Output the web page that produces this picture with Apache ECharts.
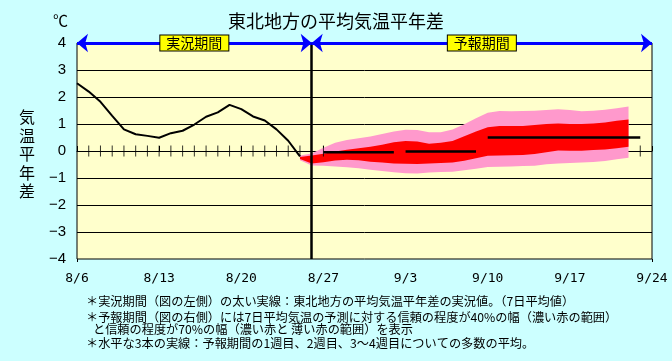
<!DOCTYPE html>
<html><head><meta charset="utf-8">
<script src="https://cdn.jsdelivr.net/npm/echarts@6/dist/echarts.min.js"></script>
<style>html,body{margin:0;padding:0;background:#ccffff;}#c{width:672px;height:361px;}</style>
</head><body><div id="c"></div>
<script>
// x positions are day numbers counted from 8/6 (day 0) to 9/24 (day 49)
const tickLabels = ['8/6','8/13','8/20','8/27','9/3','9/10','9/17','9/24'];
const observedStartDay = 0;
const observed = [2.51,2.20,1.82,1.30,0.80,0.62,0.56,0.49,0.66,0.75,0.98,1.27,1.43,1.71,1.55,1.28,1.13,0.80,0.38,-0.20];
const bandStartDay = 19;
const pinkTop    = [-0.17,-0.09,0.12,0.31,0.41,0.47,0.54,0.63,0.72,0.79,0.78,0.69,0.69,0.80,0.99,1.21,1.42,1.48,1.47,1.48,1.49,1.52,1.55,1.52,1.47,1.49,1.53,1.58,1.65];
const redTop     = [-0.22,-0.17,-0.10,-0.02,0.05,0.10,0.16,0.23,0.32,0.37,0.35,0.27,0.31,0.37,0.55,0.72,0.88,0.93,0.93,0.93,0.96,1.00,1.02,1.00,1.00,1.02,1.06,1.12,1.17];
const redBottom  = [-0.30,-0.46,-0.42,-0.35,-0.32,-0.34,-0.40,-0.43,-0.46,-0.47,-0.48,-0.46,-0.44,-0.43,-0.36,-0.27,-0.18,-0.17,-0.16,-0.15,-0.11,-0.05,0.02,0.01,0.01,0.04,0.06,0.10,0.16];
const pinkBottom = [-0.34,-0.54,-0.55,-0.57,-0.60,-0.64,-0.69,-0.74,-0.79,-0.82,-0.83,-0.80,-0.78,-0.77,-0.71,-0.66,-0.59,-0.58,-0.57,-0.56,-0.55,-0.49,-0.46,-0.44,-0.43,-0.41,-0.37,-0.31,-0.25];
const meanFrom  = [21, 28, 35];
const meanTo    = [27, 34, 48];
const meanValue = [-0.05, -0.02, 0.50];
const zeroTickDays = [1,2,3,4,5,6,7,8,9,10,11,12,13,14,15,16,17,18,19,21,48];
const splitDay = 20;   // 8/26: boundary between observed and forecast periods
const periodNames = ['実況期間', '予報期間'];
const footnotes = [
  '＊実況期間（図の左側）の太い実線：東北地方の平均気温平年差の実況値。（7日平均値）',
  '＊予報期間（図の右側）には7日平均気温の予測に対する信頼の程度が40%の幅（濃い赤の範囲）',
  'と信頼の程度が70%の幅（濃い赤と 薄い赤の範囲）を表示',
  '＊水平な3本の実線：予報期間の1週目、2週目、3～4週目についての多数の平均。'
];

const FONT = '"Noto Sans CJK JP", sans-serif';
const bandDays = pinkTop.map((_, i) => bandStartDay + i);

// band polygon: upper edge forward, lower edge backward, all through the axis scales
const bandSeries = (upper, lower, color, z) => ({
  type: 'custom', z, clip: true, silent: true, animation: false,
  data: [[bandStartDay, 0]],
  encode: { x: 0, y: 1 },
  renderItem: (params, api) => {
    const pts = [];
    for (let i = 0; i < bandDays.length; i++) pts.push(api.coord([bandDays[i], upper[i]]));
    for (let i = bandDays.length - 1; i >= 0; i--) pts.push(api.coord([bandDays[i], lower[i]]));
    return { type: 'polygon', shape: { points: pts }, style: { fill: color, stroke: null } };
  }
});

const meanSeries = meanValue.map((v, i) => ({
  type: 'line', data: [[meanFrom[i], v], [meanTo[i], v]], symbol: 'none', z: 5,
  lineStyle: { color: '#000', width: 2.5 }, animation: false
}));

const footStyle = { fontFamily: FONT, fontSize: 12.2, lineHeight: 14, fontWeight: 'normal', color: '#000' };

const chart = echarts.init(document.getElementById('c'), null, { renderer: 'canvas' });
chart.setOption({
  backgroundColor: '#ccffff',
  animation: false,
  title: [
    { text: '東北地方の平均気温平年差', left: 'center', top: 12, padding: 0,
      textStyle: { fontFamily: FONT, fontSize: 18, fontWeight: 'normal', color: '#000' } },
    { text: '℃', left: 53, top: 13, padding: 0,
      textStyle: { fontFamily: FONT, fontSize: 15, fontWeight: 'normal', color: '#000' } },
    { text: '気\n温\n平\n年\n差', left: 19, top: 108, padding: 0,
      textStyle: { fontFamily: FONT, fontSize: 16, lineHeight: 18.5, fontWeight: 'normal', color: '#000' } },
    { text: footnotes[0], left: 86, top: 294, padding: 0, textStyle: footStyle },
    { text: footnotes[1], left: 86, top: 310, padding: 0, textStyle: footStyle },
    { text: footnotes[2], left: 93, top: 322, padding: 0, textStyle: footStyle },
    { text: footnotes[3], left: 86, top: 336, padding: 0, textStyle: footStyle }
  ],
  grid: { left: 77, right: 20, top: 43, bottom: 102, show: true, backgroundColor: '#ffffcc',
          borderColor: '#000', borderWidth: 1, containLabel: false },
  xAxis: [
    { type: 'value', min: 0, max: 49, interval: 7, position: 'bottom',
      axisLine: { show: true, lineStyle: { color: '#000', width: 1 } },
      axisTick: { show: true, inside: true, length: 5, lineStyle: { color: '#000' } },
      splitLine: { show: false },
      axisLabel: { margin: 13, fontFamily: '"DejaVu Sans Mono", monospace', fontSize: 13, color: '#000',
                   formatter: (v) => tickLabels[Math.round(v / 7)] } },
    { type: 'value', min: 0, max: 49, interval: 7, position: 'bottom',
      axisLine: { show: false },
      axisTick: { show: true, inside: false, length: 3, customValues: [0, 49], lineStyle: { color: '#000' } },
      splitLine: { show: false }, axisLabel: { show: false } }
  ],
  yAxis: { type: 'value', min: -4, max: 4, interval: 1,
    axisLine: { show: false }, axisTick: { show: false },
    splitLine: { show: true, showMinLine: false, showMaxLine: false, lineStyle: { color: '#000', width: 1 } },
    axisLabel: { margin: 11, fontFamily: '"Liberation Sans", Arial, sans-serif', fontSize: 15, color: '#000',
                 formatter: (v) => v < 0 ? '\u2212' + Math.abs(v) : String(v) } },
  series: [
    bandSeries(pinkTop, pinkBottom, '#ff99cc', 2),
    bandSeries(redTop, redBottom, '#ff0000', 3),
    { type: 'line', data: observed.map((v, i) => [observedStartDay + i, v]), symbol: 'none', z: 4,
      lineStyle: { color: '#000', width: 2 }, animation: false },
    ...meanSeries,
    { type: 'scatter', data: zeroTickDays.map(d => [d, 0]), symbol: 'rect', symbolSize: [1, 11], z: 6,
      itemStyle: { color: '#000' }, silent: true, animation: false },
    { type: 'line', data: [], z: 7, animation: false,
      markLine: { silent: true, symbol: 'none', animation: false,
        lineStyle: { color: '#000', width: 2.5, type: 'solid' }, label: { show: false },
        data: [{ xAxis: splitDay }] } },
    { type: 'line', data: [], z: 8, animation: false,
      markLine: { silent: true, symbol: ['arrow', 'arrow'], symbolSize: [14, 11], animation: false,
        lineStyle: { color: '#0000ff', width: 3, type: 'solid' },
        label: { show: true, position: 'middle', formatter: '{b}', distance: 0,
                 fontFamily: FONT, fontSize: 14, color: '#000', backgroundColor: '#ffff00',
                 borderColor: '#000', borderWidth: 1, padding: [1, 6, 0, 6], verticalAlign: 'middle' },
        data: [
          [{ name: periodNames[0], coord: [0, 4] }, { coord: [splitDay, 4] }],
          [{ name: periodNames[1], coord: [splitDay, 4] }, { coord: [49, 4] }]
        ] } }
  ]
});
</script></body></html>
